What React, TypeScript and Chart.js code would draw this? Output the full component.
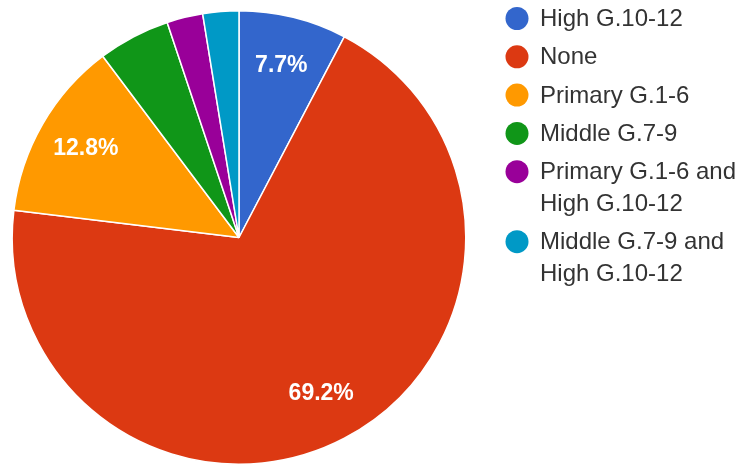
import React, { useEffect, useRef } from "react";
import { Chart, registerables } from "chart.js";

Chart.register(...registerables);

const categories = [
  "High G.10-12",
  "None",
  "Primary G.1-6",
  "Middle G.7-9",
  "Primary G.1-6 and High G.10-12",
  "Middle G.7-9 and High G.10-12",
];
const values = [3, 27, 5, 2, 1, 1];
const colors = ["#3366cc", "#dc3912", "#ff9900", "#109618", "#990099", "#0099c6"];

const FONT = "Arial, 'Liberation Sans', sans-serif";

const sliceLabels = {
  id: "sliceLabels",
  afterDatasetsDraw(chart: any) {
    const ctx = chart.ctx;
    const meta = chart.getDatasetMeta(0);
    const data = chart.data.datasets[0].data as number[];
    const total = data.reduce((a, b) => a + b, 0);
    ctx.save();
    ctx.fillStyle = "#ffffff";
    ctx.font = `bold 23px ${FONT}`;
    ctx.textAlign = "center";
    ctx.textBaseline = "middle";
    meta.data.forEach((arc: any, i: number) => {
      const pct = (data[i] / total) * 100;
      if (pct < 7) return;
      const { x, y, startAngle, endAngle, outerRadius } = arc.getProps(
        ["x", "y", "startAngle", "endAngle", "outerRadius"],
        true
      );
      const mid = (startAngle + endAngle) / 2;
      const r = outerRadius * 0.78;
      ctx.fillText(pct.toFixed(1) + "%", x + Math.cos(mid) * r, y + Math.sin(mid) * r);
    });
    ctx.restore();
  },
};

const sideLegend = {
  id: "sideLegend",
  afterDraw(chart: any) {
    const ctx = chart.ctx;
    const textX = 540;
    const maxW = chart.width - textX;
    const lineH = 31.7;
    const gap = 38.3;
    ctx.save();
    ctx.font = `24px ${FONT}`;
    ctx.textBaseline = "middle";
    ctx.textAlign = "left";
    let y = 18.5;
    categories.forEach((label, i) => {
      const words = label.split(" ");
      const lines: string[] = [];
      let cur = "";
      words.forEach((w) => {
        const test = cur ? cur + " " + w : w;
        if (cur && ctx.measureText(test).width > maxW) {
          lines.push(cur);
          cur = w;
        } else cur = test;
      });
      if (cur) lines.push(cur);
      ctx.fillStyle = colors[i];
      ctx.beginPath();
      ctx.arc(517, y, 11.5, 0, Math.PI * 2);
      ctx.fill();
      ctx.fillStyle = "#333333";
      lines.forEach((ln, j) => {
        ctx.fillText(ln, textX, y + j * lineH + 1);
      });
      y += (lines.length - 1) * lineH + gap;
    });
    ctx.restore();
  },
};

export default function App() {
  const ref = useRef<HTMLCanvasElement>(null);
  useEffect(() => {
    const chart = new Chart(ref.current!, {
      type: "pie",
      data: {
        labels: categories,
        datasets: [
          {
            data: values,
            backgroundColor: colors,
            borderColor: "#ffffff",
            borderWidth: 1.5,
          },
        ],
      },
      options: {
        animation: false,
        responsive: true,
        maintainAspectRatio: false,
        layout: { padding: { left: 11, top: 10, right: 272, bottom: 0 } },
        plugins: {
          legend: { display: false },
          tooltip: { enabled: false },
        },
      },
      plugins: [sliceLabels, sideLegend],
    });
    return () => chart.destroy();
  }, []);
  return (
    <div style={{ position: "absolute", left: 0, top: 0, width: 739, height: 465, background: "#fff" }}>
      <canvas ref={ref} />
    </div>
  );
}
